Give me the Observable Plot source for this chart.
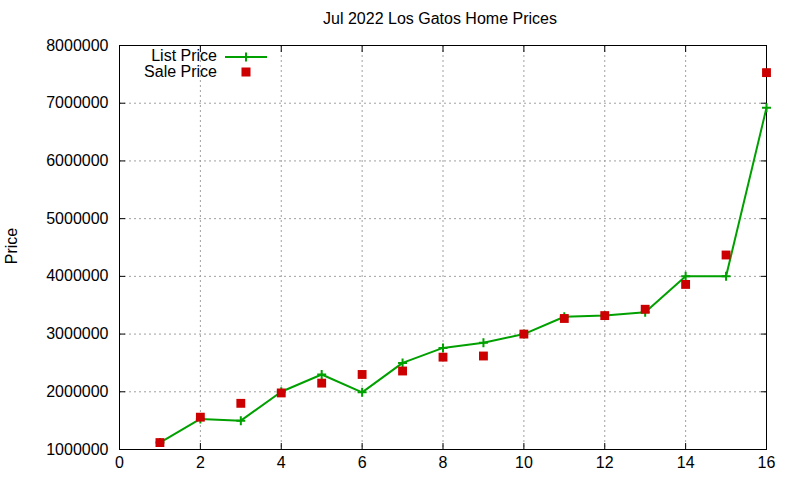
<!DOCTYPE html>
<html><head><meta charset="utf-8">
<script src="https://cdn.jsdelivr.net/npm/d3@7"></script>
<script src="https://cdn.jsdelivr.net/npm/@observablehq/plot@0.6"></script>
<style>
body{margin:0;background:#fff;font-family:"Liberation Sans",Arial,sans-serif;}
#wrap{position:relative;width:800px;height:480px;overflow:hidden;}
#title{position:absolute;left:240px;width:400px;top:10px;text-align:center;font-size:16px;color:#000;}
#ylab{position:absolute;left:12px;top:246px;transform:translate(-50%,-50%) rotate(-90deg);font-size:16px;}
.leg{position:absolute;font-size:16px;right:583px;}
#leg svg{position:absolute;}
</style></head><body>
<div id="wrap">
<div id="chart"></div>
<div id="title"></div>
<div id="ylab">Price</div>
<div id="leg"></div>
</div>
<script>
const titleText = "Jul 2022 Los Gatos Home Prices";
const yLabel = "Price";
const seriesNames = ["List Price", "Sale Price"];
const homeIndex = [1, 2, 3, 4, 5, 6, 7, 8, 9, 10, 11, 12, 13, 14, 15, 16];
const listPrice = [1120000, 1530000, 1500000, 2000000, 2300000, 1990000, 2500000, 2760000, 2850000, 3000000, 3300000, 3320000, 3380000, 4000000, 4000000, 6920000];
const salePrice = [1120000, 1560000, 1800000, 1980000, 2150000, 2300000, 2360000, 2600000, 2620000, 3000000, 3270000, 3320000, 3430000, 3860000, 4370000, 7530000];
const xTicks = [0, 2, 4, 6, 8, 10, 12, 14, 16];
const yTicks = [1000000, 2000000, 3000000, 4000000, 5000000, 6000000, 7000000, 8000000];

const listData = homeIndex.map((x, i) => ({x, y: listPrice[i]}));
const saleData = homeIndex.map((x, i) => ({x, y: salePrice[i]}));

const green = "#00a000", red = "#cc0000", gridCol = "#a0a0a0";
const blank = () => "";

const chart = Plot.plot({
  width: 800, height: 480,
  marginLeft: 119, marginRight: 34, marginTop: 45, marginBottom: 31,
  style: {fontFamily: "Liberation Sans, Arial, sans-serif", fontSize: "16px", color: "#000", background: "#fff"},
  x: {domain: [0, 16]},
  y: {domain: [1000000, 8000000]},
  marks: [
    Plot.gridX(xTicks, {stroke: gridCol, strokeOpacity: 1, strokeDasharray: "2,3"}),
    Plot.gridY(yTicks, {stroke: gridCol, strokeOpacity: 1, strokeDasharray: "2,3"}),
    Plot.axisX({anchor: "bottom", ticks: xTicks, tickSize: -6, tickPadding: 13, label: null, tickFormat: d3.format("d")}),
    Plot.axisX({anchor: "top", ticks: xTicks, tickSize: -6, label: null, tickFormat: blank}),
    Plot.axisY({anchor: "left", ticks: yTicks, tickSize: -6, tickPadding: 17, label: null, tickFormat: d3.format("d")}),
    Plot.axisY({anchor: "right", ticks: yTicks, tickSize: -6, label: null, tickFormat: blank}),
    Plot.frame({stroke: "#000"}),
    Plot.line(listData, {x: "x", y: "y", stroke: green, strokeWidth: 2}),
    Plot.dot(listData, {x: "x", y: "y", symbol: "plus", r: 3, stroke: green, strokeWidth: 2}),
    Plot.dot(saleData, {x: "x", y: "y", symbol: "square", r: 5, fill: red, stroke: "none"})
  ]
});
document.getElementById("chart").appendChild(chart);
document.getElementById("title").textContent = titleText;
document.getElementById("ylab").textContent = yLabel;

// legend
const leg = document.getElementById("leg");
seriesNames.forEach((name, i) => {
  const t = document.createElement("div");
  t.className = "leg";
  t.style.top = (i === 0 ? 47 : 63) + "px";
  t.textContent = name;
  leg.appendChild(t);
});
const ns = "http://www.w3.org/2000/svg";
const sw = document.createElementNS(ns, "svg");
sw.setAttribute("width", 50); sw.setAttribute("height", 30);
sw.style.position = "absolute"; sw.style.left = "222px"; sw.style.top = "50px";
sw.innerHTML = `<line x1="3" x2="45" y1="7" y2="7" stroke="${green}" stroke-width="2"/>
<line x1="24" x2="24" y1="2.5" y2="11.5" stroke="${green}" stroke-width="2"/>
<rect x="19.5" y="17.5" width="9" height="9" fill="${red}"/>`;
leg.appendChild(sw);
</script>
</body></html>
